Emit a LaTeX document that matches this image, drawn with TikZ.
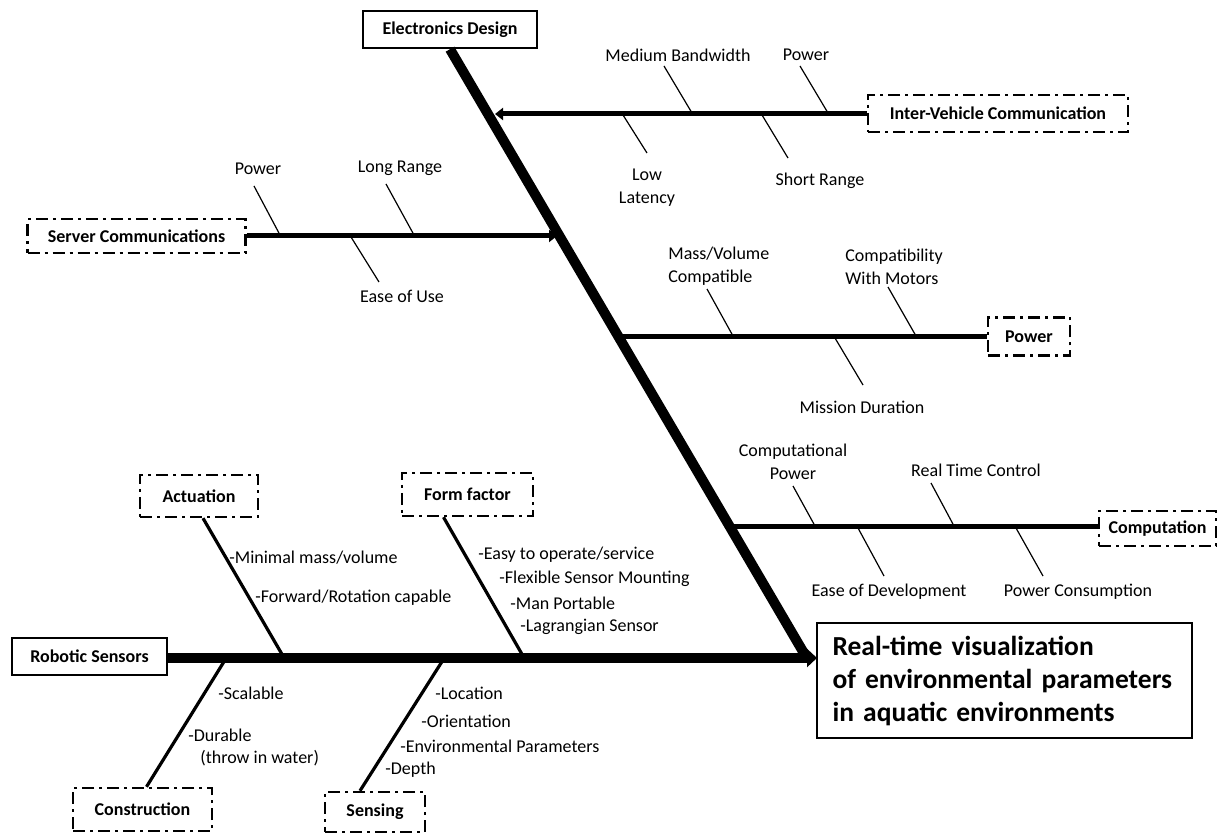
\documentclass[tikz,border=0pt]{standalone}
\usepackage{fontspec}
\setmainfont{Carlito}
\usetikzlibrary{arrows.meta,calc}
\begin{document}
\begin{tikzpicture}[x=0.5pt,y=-0.5pt,
  lbl/.style={font=\fontsize{9}{11.5}\selectfont, inner sep=0pt},
  sbox/.style={draw, line width=1.2pt, font=\fontsize{9}{11}\selectfont\bfseries, inner sep=0pt},
  dbox/.style={sbox, dash pattern=on 6pt off 2.5pt on 1.5pt off 2.5pt},
  spine/.style={line width=5pt},
  branch/.style={line width=2.5pt},
  leg/.style={line width=1.6pt},
  rib/.style={line width=0.6pt},
  smallhead/.style={-{Triangle[length=4pt,width=6pt]}},
  bighead/.style={-{Triangle[length=5pt,width=9pt]}},
]
\useasboundingbox (0,0) rectangle (1228,834);

% ---- boxes
\node[sbox, minimum width=87pt, minimum height=18.5pt] (ed) at (450,29.5) {Electronics Design};
\node[dbox, minimum width=130pt, minimum height=18.5pt] (ivc) at (998,113.5) {Inter-Vehicle Communication};
\node[dbox, minimum width=109pt, minimum height=17pt] (ser) at (136.5,236) {Server Communications};
\node[dbox, minimum width=41pt, minimum height=19pt] (pwr) at (1029,336.5) {Power};
\node[dbox, minimum width=58.5pt, minimum height=17.5pt] (comp) at (1157.5,528.5) {Computation};
\node[sbox, minimum width=187.5pt, minimum height=57.5pt, text width=172pt, inner xsep=7.75pt, align=left,
      font=\fontsize{13.75}{16.5}\selectfont\bfseries] (res) at (1004.5,680.5)
      {Real-time visualization\\of environmental parameters\\in aquatic environments};
\node[sbox, minimum width=77.5pt, minimum height=18.5pt] (rob) at (89.5,656.5) {Robotic Sensors};
\node[dbox, minimum width=59pt, minimum height=21pt] (act) at (199,496) {Actuation};
\node[dbox, minimum width=65.5pt, minimum height=21.5pt] (ff) at (467.5,494.5) {Form factor};
\node[dbox, minimum width=69.5pt, minimum height=21.5pt] (cons) at (142.5,809.5) {Construction};
\node[dbox, minimum width=50pt, minimum height=20pt] (sens) at (375,812) {Sensing};

% ---- spine and main line
\coordinate (sp) at (805,655);
\draw[spine] (ed.south) -- (sp);
\coordinate (rtip) at (817,658);
\draw[spine, bighead] (rob.east |- rtip) -- (rtip);

% ---- branches
\coordinate (j1) at (495,114);
\draw[branch, smallhead] (ivc.west |- j1) -- (j1);
\coordinate (j2) at (557,236);
\draw[branch, smallhead] (ser.east |- j2) -- (j2);
\coordinate (j3) at (620,337);
\draw[branch] (pwr.west |- j3) -- (j3);
\coordinate (j4) at (730,527);
\draw[branch] (comp.west |- j4) -- (j4);

% ---- legs of the lower part
\coordinate (k1) at (283,656);
\draw[leg] ($(act.south)+(4,0)$) -- (k1);
\coordinate (k2) at (523,656);
\draw[leg] ($(ff.south)+(-24,0)$) -- (k2);
\coordinate (k3) at (225,660);
\draw[leg] ($(cons.north)+(4,0)$) -- (k3);
\coordinate (k4) at (443,660);
\draw[leg] ($(sens.north)+(-15,0)$) -- (k4);

% ---- ribs: inter-vehicle
\coordinate (a1) at (664,66);  \coordinate (a2) at (692,113);
\coordinate (b1) at (800,66);  \coordinate (b2) at (828,113);
\coordinate (c1) at (623,115); \coordinate (c2) at (647,153);
\coordinate (d1) at (762,115); \coordinate (d2) at (788,158);
\draw[rib] (a1) -- (a2); \draw[rib] (b1) -- (b2);
\draw[rib] (c1) -- (c2); \draw[rib] (d1) -- (d2);
\node[lbl] (mb) at (678,55) {Medium Bandwidth};
\node[lbl] (ivp) at (806,55) {Power};
\node[lbl, align=center] (ll) at (647,188) {Low\\Latency};
\node[lbl] (sr) at (820,181) {Short Range};

% ---- ribs: server
\coordinate (e1) at (254,186); \coordinate (e2) at (280,235);
\coordinate (f1) at (386,184); \coordinate (f2) at (414,235);
\coordinate (g1) at (351,237); \coordinate (g2) at (379,282);
\draw[rib] (e1) -- (e2); \draw[rib] (f1) -- (f2); \draw[rib] (g1) -- (g2);
\node[lbl] (sp1) at (258,169) {Power};
\node[lbl] (lr) at (400,168) {Long Range};
\node[lbl] (eu) at (402,296) {Ease of Use};

% ---- ribs: power
\coordinate (h1) at (707,289); \coordinate (h2) at (733,336);
\coordinate (i1) at (888,287); \coordinate (i2) at (916,336);
\coordinate (l1) at (835,338); \coordinate (l2) at (863,385);
\draw[rib] (h1) -- (h2); \draw[rib] (i1) -- (i2); \draw[rib] (l1) -- (l2);
\node[lbl, align=left, anchor=west] (mv) at (668,266.5) {Mass/Volume\\Compatible};
\node[lbl, align=left, anchor=west] (cm) at (845,266.5) {Compatibility\\With Motors};
\node[lbl] (md) at (862,407) {Mission Duration};

% ---- ribs: computation
\coordinate (m1) at (793,486); \coordinate (m2) at (815,526);
\coordinate (n1) at (931,483); \coordinate (n2) at (954,526);
\coordinate (o1) at (858,528); \coordinate (o2) at (884,576);
\coordinate (q1) at (1016,528); \coordinate (q2) at (1043,576);
\draw[rib] (m1) -- (m2); \draw[rib] (n1) -- (n2);
\draw[rib] (o1) -- (o2); \draw[rib] (q1) -- (q2);
\node[lbl, align=center] (cp) at (793,462) {Computational\\Power};
\node[lbl] (rtc) at (976,470) {Real Time Control};
\node[lbl] (eod) at (889,592) {Ease of Development};
\node[lbl] (pc) at (1078,592) {Power Consumption};

% ---- lower texts
\node[lbl, anchor=west] (t1) at (229,558) {-Minimal mass/volume};
\node[lbl, anchor=west] (t2) at (255,598) {-Forward/Rotation capable};
\node[lbl, anchor=west] (t3) at (478,555) {-Easy to operate/service};
\node[lbl, anchor=west] (t4) at (499,579) {-Flexible Sensor Mounting};
\node[lbl, anchor=west] (t5) at (510,603) {-Man Portable};
\node[lbl, anchor=west] (t6) at (520,627) {-Lagrangian Sensor};
\node[lbl, anchor=west] (t7) at (218,693) {-Scalable};
\node[lbl, anchor=west] (t8) at (188,735) {-Durable};
\node[lbl, anchor=west] (t9) at (200,758) {(throw in water)};
\node[lbl, anchor=west] (t10) at (435,693) {-Location};
\node[lbl, anchor=west] (t11) at (421,721) {-Orientation};
\node[lbl, anchor=west] (t12) at (400,746) {-Environmental Parameters};
\node[lbl, anchor=west] (t13) at (385,770) {-Depth};
\end{tikzpicture}
\end{document}
